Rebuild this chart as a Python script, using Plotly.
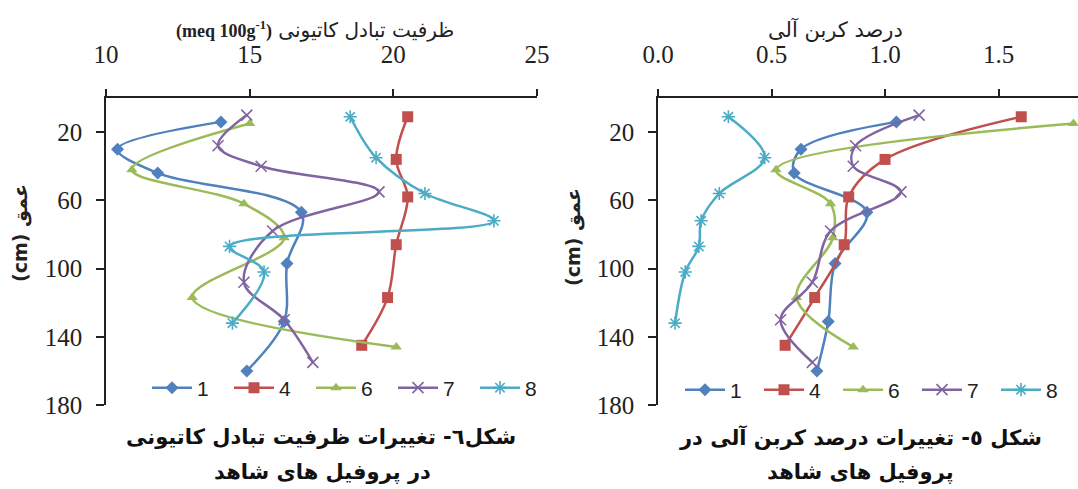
import plotly.graph_objects as go

W, H = 1078, 489

# ---------------- data ----------------
series_names = ["1", "4", "6", "7", "8"]
colors = ["#4F81BD", "#C0504D", "#9BBB59", "#8064A2", "#4BACC6"]
symbols = ["diamond", "square", "triangle-up", "x-thin-open", "asterisk-open"]

depth_1 = [14, 30, 44, 67, 97, 131, 160]
depth_4 = [11, 36, 58, 86, 117, 145]
depth_6 = [15, 42, 62, 82, 117, 146]
depth_7 = [10, 28, 40, 55, 78, 108, 130, 155]
depth_8 = [11, 35, 56, 72, 87, 102, 132]

cec_1 = [14.0, 10.4, 11.8, 16.8, 16.3, 16.2, 14.9]
cec_4 = [20.5, 20.1, 20.5, 20.1, 19.8, 18.9]
cec_6 = [15.0, 10.9, 14.8, 16.2, 13.0, 20.1]
cec_7 = [14.9, 13.9, 15.4, 19.5, 15.8, 14.8, 16.2, 17.2]
cec_8 = [18.5, 19.4, 21.1, 23.5, 14.3, 15.5, 14.4]

oc_1 = [1.05, 0.63, 0.60, 0.92, 0.78, 0.75, 0.70]
oc_4 = [1.60, 1.00, 0.84, 0.82, 0.69, 0.56]
oc_6 = [1.83, 0.52, 0.76, 0.77, 0.61, 0.86]
oc_7 = [1.15, 0.87, 0.86, 1.07, 0.76, 0.68, 0.54, 0.68]
oc_8 = [0.31, 0.47, 0.27, 0.19, 0.18, 0.12, 0.075]

depths = [depth_1, depth_4, depth_6, depth_7, depth_8]
cec = [cec_1, cec_4, cec_6, cec_7, cec_8]
oc = [oc_1, oc_4, oc_6, oc_7, oc_8]

depth_ticks = [20, 60, 100, 140, 180]
cec_ticks = [10, 15, 20, 25]
oc_ticks = [0.0, 0.5, 1.0, 1.5]
oc_tick_text = ["0.0", "0.5", "1.0", "1.5"]

# ---------------- figure ----------------
fig = go.Figure()

marker_sizes = [10, 11, 10, 11, 11]


def add_series(xvals, yvals, i, xa, ya, legend):
    open_sym = symbols[i].endswith("open")
    fig.add_trace(go.Scatter(
        x=xvals, y=yvals, name=series_names[i], mode="lines+markers",
        xaxis=xa, yaxis=ya, legend=legend,
        line=dict(color=colors[i], width=2.5, shape="spline", smoothing=1.0),
        marker=dict(symbol=symbols[i], size=marker_sizes[i], color=colors[i],
                    line=dict(color=colors[i], width=1.6 if open_sym else 0)),
        cliponaxis=False,
    ))


for i in range(5):
    add_series(cec[i], depths[i], i, "x", "y", "legend")
for i in range(5):
    add_series(oc[i], depths[i], i, "x2", "y2", "legend2")


def px_x(p):
    return p / W


def px_y(p):
    return 1 - p / H


ydom = [px_y(405), px_y(98)]
serif = "Liberation Serif"
axis_common = dict(showline=True, linecolor="#222", linewidth=1.5, ticks="outside",
                   tickcolor="#222", tickwidth=1.5, showgrid=False, zeroline=False,
                   automargin=False,
                   tickfont=dict(family=serif, size=25, color="#222"))

legend_common = dict(orientation="h", xanchor="left", yanchor="middle",
                     xref="container", yref="container",
                     bgcolor="rgba(0,0,0,0)", borderwidth=0,
                     font=dict(family="Liberation Sans", size=21, color="#222"),
                     entrywidthmode="pixels", itemwidth=40)

fig.update_layout(
    width=W, height=H, margin=dict(l=0, r=0, t=0, b=0, autoexpand=False),
    paper_bgcolor="white", plot_bgcolor="white",
    xaxis=dict(domain=[px_x(106), px_x(537)], range=[10, 25], side="top", anchor="y",
               tickvals=cec_ticks, ticklen=7, ticklabelstandoff=16, **axis_common),
    yaxis=dict(domain=ydom, range=[180, 0], anchor="x", tickvals=depth_ticks,
               ticklen=8, ticklabelstandoff=9, **axis_common),
    xaxis2=dict(domain=[px_x(658), 1.0], range=[0, 1.85], side="top", anchor="y2",
                tickvals=oc_ticks, ticktext=oc_tick_text, ticklen=7, ticklabelstandoff=16,
                **axis_common),
    yaxis2=dict(domain=ydom, range=[180, 0], anchor="x2", tickvals=depth_ticks,
                ticklen=8, ticklabelstandoff=9, **axis_common),
    legend=dict(x=px_x(147), y=px_y(388), entrywidth=27, **legend_common),
    legend2=dict(x=px_x(680), y=px_y(390), entrywidth=24, **legend_common),
    showlegend=True,
)

persian = "DejaVu Sans"

cap_left_1 = "شکل٦- تغییرات ظرفیت تبادل کاتیونی"
cap_left_2 = "در پروفیل های شاهد"
cap_right_1 = "شکل ٥- تغییرات درصد کربن آلی در"
cap_right_2 = "پروفیل های شاهد"

annotations = [
    dict(x=px_x(315), y=px_y(30),
         text="<span style='font-family:Liberation Serif;font-size:18px'><b>(meq 100g<sup>-1</sup>)</b></span> ظرفیت تبادل کاتیونی",
         font=dict(family=persian, size=20, color="#222")),
    dict(x=px_x(835), y=px_y(29), text="درصد کربن آلی",
         font=dict(family=persian, size=21, color="#222")),
    dict(x=px_x(20), y=px_y(233), text="<b>(cm) عمق</b>", textangle=-90,
         font=dict(family=persian, size=19, color="#222")),
    dict(x=px_x(573), y=px_y(237), text="<b>(cm) عمق</b>", textangle=-90,
         font=dict(family=persian, size=19, color="#222")),
    dict(x=px_x(321), y=px_y(437), text="<b>" + cap_left_1 + "</b>",
         font=dict(family=persian, size=21, color="#111")),
    dict(x=px_x(322), y=px_y(472), text="<b>" + cap_left_2 + "</b>",
         font=dict(family=persian, size=21, color="#111")),
    dict(x=px_x(860), y=px_y(437), text="<b>" + cap_right_1 + "</b>",
         font=dict(family=persian, size=21, color="#111")),
    dict(x=px_x(860), y=px_y(472), text="<b>" + cap_right_2 + "</b>",
         font=dict(family=persian, size=21, color="#111")),
]
for a in annotations:
    a.update(xref="paper", yref="paper", showarrow=False, xanchor="center", yanchor="middle")
fig.update_layout(annotations=annotations)

fig.write_html("out.html", config={"displayModeBar": False},
               post_script="document.body.style.margin='0px';document.body.style.padding='0px';")
